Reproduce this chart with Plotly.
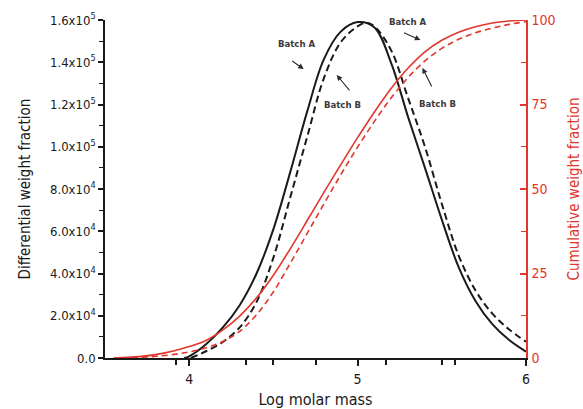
import plotly.graph_objects as go

# Differential weight distribution (left axis)
x_diff_a = [3.97, 4.0, 4.1, 4.2, 4.3, 4.4, 4.5, 4.6, 4.7, 4.8, 4.9, 5.0, 5.1,
            5.2, 5.3, 5.4, 5.5, 5.6, 5.7, 5.8, 5.9, 6.0]
y_diff_a = [0, 800, 6500, 14500, 25000, 40000, 61000, 88000, 116500, 141500, 154500,
            159000, 156500, 139500, 114000, 90000, 65500, 43000, 27000, 16000, 8500, 3000]

x_diff_b = [4.01, 4.1, 4.2, 4.3, 4.4, 4.5, 4.6, 4.7, 4.8, 4.9, 5.0, 5.05,
            5.1, 5.2, 5.3, 5.4, 5.5, 5.6, 5.7, 5.8, 5.9, 6.0]
y_diff_b = [0, 3200, 7600, 14500, 26500, 47500, 76000, 104500, 132500, 149500, 157000,
            158700, 157000, 145500, 123000, 100000, 73000, 48500, 32000, 21000, 13500, 7700]

# Cumulative weight fraction (right axis, %)
x_cum_a = [3.55, 3.7, 3.8, 3.9, 4.0, 4.1, 4.2, 4.3, 4.4, 4.5, 4.6, 4.7, 4.8, 4.9,
           5.0, 5.1, 5.2, 5.3, 5.4, 5.5, 5.6, 5.7, 5.8, 5.9, 6.0]
y_cum_a = [0, 0.4, 1.0, 2.0, 3.4, 5.2, 8.3, 12.4, 17.8, 24.5, 32.3, 40.6, 49.0, 57.2,
           65.2, 72.8, 79.8, 85.8, 90.6, 94.0, 96.4, 98.0, 99.1, 99.7, 100]

x_cum_b = [3.6, 3.7, 3.8, 3.9, 4.0, 4.1, 4.2, 4.3, 4.4, 4.5, 4.6, 4.7, 4.8, 4.9,
           5.0, 5.1, 5.2, 5.3, 5.4, 5.5, 5.6, 5.7, 5.8, 5.9, 6.0]
y_cum_b = [0, 0.2, 0.5, 1.0, 1.8, 3.0, 4.9, 7.9, 12.8, 19.6, 28.0, 36.8, 45.6, 54.2,
           62.4, 70.0, 77.0, 83.0, 87.9, 91.6, 94.3, 96.2, 97.6, 98.7, 99.5]

# Axis ticks
left_tickvals = [0, 20000, 40000, 60000, 80000, 100000, 120000, 140000, 160000]
left_ticktext = ["0.0", "2.0x10<sup>4</sup>", "4.0x10<sup>4</sup>", "6.0x10<sup>4</sup>",
                 "8.0x10<sup>4</sup>", "1.0x10<sup>5</sup>", "1.2x10<sup>5</sup>",
                 "1.4x10<sup>5</sup>", "1.6x10<sup>5</sup>"]
right_tickvals = [0, 25, 50, 75, 100]
x_tickvals = [4, 5, 6]
x_minor_ticks = [3.92, 4.34, 4.50, 4.75, 5.17, 5.50, 5.58]

FONT = "DejaVu Sans Condensed, Liberation Sans Narrow, sans-serif"
BLACK = "#1a1a1a"
RED = "#e2362c"

fig = go.Figure()
fig.add_trace(go.Scatter(x=x_diff_a, y=y_diff_a, mode="lines", name="Batch A",
                         line=dict(color=BLACK, width=2, shape="spline", smoothing=1.0)))
fig.add_trace(go.Scatter(x=x_diff_b, y=y_diff_b, mode="lines", name="Batch B",
                         line=dict(color=BLACK, width=2, dash="7px,4px",
                                   shape="spline", smoothing=1.0)))
fig.add_trace(go.Scatter(x=x_cum_a, y=y_cum_a, mode="lines", name="Batch A cum.", yaxis="y2",
                         line=dict(color=RED, width=1.6, shape="spline", smoothing=1.0)))
fig.add_trace(go.Scatter(x=x_cum_b, y=y_cum_b, mode="lines", name="Batch B cum.", yaxis="y2",
                         line=dict(color=RED, width=1.6, dash="6px,4px",
                                   shape="spline", smoothing=1.0)))

# Labels with arrows: (text x, text y, arrow head x, arrow head y, ax, ay)
labels = [
    ("Batch A", 4.639, 148900, 4.680, 136800, -13, -9),
    ("Batch B", 4.911, 119800, 4.876, 134000, 14, 17),
    ("Batch A", 5.296, 159100, 5.373, 150500, -18, -8),
    ("Batch B", 5.473, 120700, 5.385, 137300, 10, 20),
]
annotations = []
for text, tx, ty, hx, hy, ax, ay in labels:
    annotations.append(dict(x=tx, y=ty, xref="x", yref="y", text=f"<b>{text}</b>",
                            showarrow=False, font=dict(family=FONT, size=9.5, color="#3a3a3a")))
    annotations.append(dict(x=hx, y=hy, xref="x", yref="y", text="", showarrow=True,
                            ax=ax, ay=ay, arrowhead=2, arrowsize=1, arrowwidth=1.1,
                            arrowcolor="#2a2a2a"))

fig.update_layout(
    width=583, height=409,
    margin=dict(l=105, r=57, t=20, b=51, autoexpand=False),
    paper_bgcolor="white", plot_bgcolor="white",
    showlegend=False,
    font=dict(family=FONT, color=BLACK),
    annotations=annotations,
    xaxis=dict(
        range=[3.5, 6.0], tickvals=x_tickvals, ticktext=["4", "5", "6"],
        ticks="outside", ticklen=6, tickwidth=1.5, tickcolor=BLACK,
        showline=True, linecolor=BLACK, linewidth=1.5, showgrid=False, zeroline=False,
        tickfont=dict(family=FONT, size=14, color=BLACK), ticklabelstandoff=1,
        automargin=False,
        minor=dict(tickvals=x_minor_ticks, ticks="outside", ticklen=5, tickwidth=1.5,
                   tickcolor=BLACK, showgrid=False),
        title=dict(text="Log molar mass", font=dict(family=FONT, size=16, color=BLACK),
                   standoff=14),
    ),
    yaxis=dict(
        range=[0, 160000], tickvals=left_tickvals, ticktext=left_ticktext,
        ticks="outside", ticklen=5, tickwidth=1.5, tickcolor=BLACK,
        showline=True, linecolor=BLACK, linewidth=1.5, showgrid=False, zeroline=False,
        tickfont=dict(family=FONT, size=13, color=BLACK), automargin=False,
        minor=dict(dtick=10000, ticks="outside", ticklen=4, tickwidth=1.2,
                   tickcolor=BLACK, showgrid=False),
        title=dict(text="Differential weight fraction",
                   font=dict(family=FONT, size=15, color=BLACK), standoff=16),
    ),
    yaxis2=dict(
        range=[0, 100], overlaying="y", side="right", anchor="x",
        tickvals=right_tickvals,
        ticks="inside", ticklen=6, tickwidth=1.5, tickcolor=RED,
        showline=True, linecolor=RED, linewidth=1.5, showgrid=False, zeroline=False,
        tickfont=dict(family=FONT, size=14, color=RED), ticklabelstandoff=1,
        automargin=False,
        minor=dict(dtick=12.5, ticks="inside", ticklen=5, tickwidth=1.2,
                   tickcolor=RED, showgrid=False),
        title=dict(text="Cumulative weight fraction",
                   font=dict(family=FONT, size=15, color=RED), standoff=20),
    ),
)

fig.write_html("out.html")
